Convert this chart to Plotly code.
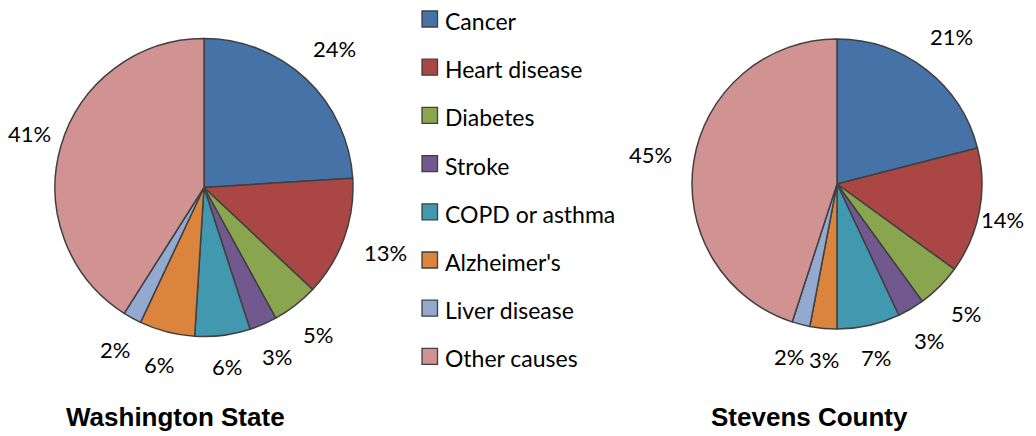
import math
import plotly.graph_objects as go

causes = ["Cancer", "Heart disease", "Diabetes", "Stroke", "COPD or asthma",
          "Alzheimer's", "Liver disease", "Other causes"]
washington = [24, 13, 5, 3, 6, 6, 2, 41]
stevens = [21, 14, 5, 3, 7, 3, 2, 45]
colors = ["#4572A7", "#AA4643", "#89A54E", "#71588F", "#4198AF",
          "#DB843D", "#93A9CF", "#D19392"]
titles = ["Washington State", "Stevens County"]

# page has an 8px body margin; figure sized to fill the 1036x436 window
OFF = 8
WIN_W, WIN_H = 1036, 436
W, H = WIN_W - OFF, WIN_H - OFF
FONT = "Lato"

def px(x):
    return (x - OFF) / W

def py(y):
    return 1 - (y - OFF) / H

pies = [dict(vals=washington, cx=204, cy=187.5, r=149, title=titles[0], tx=175),
        dict(vals=stevens, cx=837, cy=184, r=145, title=titles[1], tx=809)]

fig = go.Figure()
annotations = []
LBL_SIZE = 22
for p in pies:
    cx, cy, r = p["cx"], p["cy"], p["r"]
    fig.add_trace(go.Pie(
        labels=causes, values=p["vals"], sort=False, direction="clockwise", rotation=0,
        marker=dict(colors=colors, line=dict(color="#404040", width=1.5)),
        textinfo="none",
        domain=dict(x=[px(cx - r), px(cx + r)], y=[py(cy + r), py(cy - r)]),
        showlegend=False, hoverinfo="label+value",
    ))
    # percentage labels placed outside each slice, Excel-style
    total = sum(p["vals"])
    cum = 0
    boxes = []
    for v in p["vals"]:
        mid = (cum + v / 2) / total * 2 * math.pi
        cum += v
        dx, dy = math.sin(mid), -math.cos(mid)
        txt = f"{v}%"
        hw = (len(txt) - 1) * 0.58 * LBL_SIZE / 2 + 0.8 * LBL_SIZE / 2
        hh = 9
        ext = abs(dx) * hw + abs(dy) * hh
        d = r + 21 + ext
        lx = cx + dx * d
        ly = cy + dy * d
        lx = min(max(lx, hw + 8), WIN_W - hw - 12)
        boxes.append([lx, ly, hw, hh, txt])
    # resolve horizontal overlaps between neighbouring labels
    for _ in range(20):
        for i in range(len(boxes)):
            for j in range(i + 1, len(boxes)):
                a, b = boxes[i], boxes[j]
                if abs(a[1] - b[1]) < a[3] + b[3] + 4:
                    need = a[2] + b[2] + 4 - abs(a[0] - b[0])
                    if need > 0:
                        s = 1 if a[0] > b[0] else -1
                        a[0] += s * need / 2
                        b[0] -= s * need / 2
    for lx, ly, hw, hh, txt in boxes:
        annotations.append(dict(text=txt, xref="paper", yref="paper",
                                x=px(lx), y=py(ly), xanchor="center", yanchor="middle",
                                showarrow=False,
                                font=dict(family=FONT, size=LBL_SIZE, color="#000000")))
    annotations.append(dict(text="<b>" + p["title"] + "</b>", xref="paper", yref="paper",
                            x=px(p["tx"]), y=py(417), xanchor="center", yanchor="middle",
                            showarrow=False,
                            font=dict(family="Liberation Sans", size=26, color="#000000")))

# custom legend
shapes = []
y0, dy = 19, 48.2
for i, (name, col) in enumerate(zip(causes, colors)):
    yc = y0 + i * dy
    shapes.append(dict(type="rect", xref="paper", yref="paper",
                       x0=px(422), x1=px(437.5),
                       y0=py(yc + 8), y1=py(yc - 8),
                       fillcolor=col, line=dict(color="#404040", width=1.3)))
    annotations.append(dict(text=name, xref="paper", yref="paper",
                            x=px(443), y=py(yc + 2), xanchor="left", yanchor="middle",
                            showarrow=False,
                            font=dict(family=FONT, size=23, color="#000000")))

fig.update_layout(
    width=W, height=H, margin=dict(l=0, r=0, t=0, b=0),
    paper_bgcolor="white", plot_bgcolor="white",
    shapes=shapes, annotations=annotations,
)
fig.write_html("out.html")
